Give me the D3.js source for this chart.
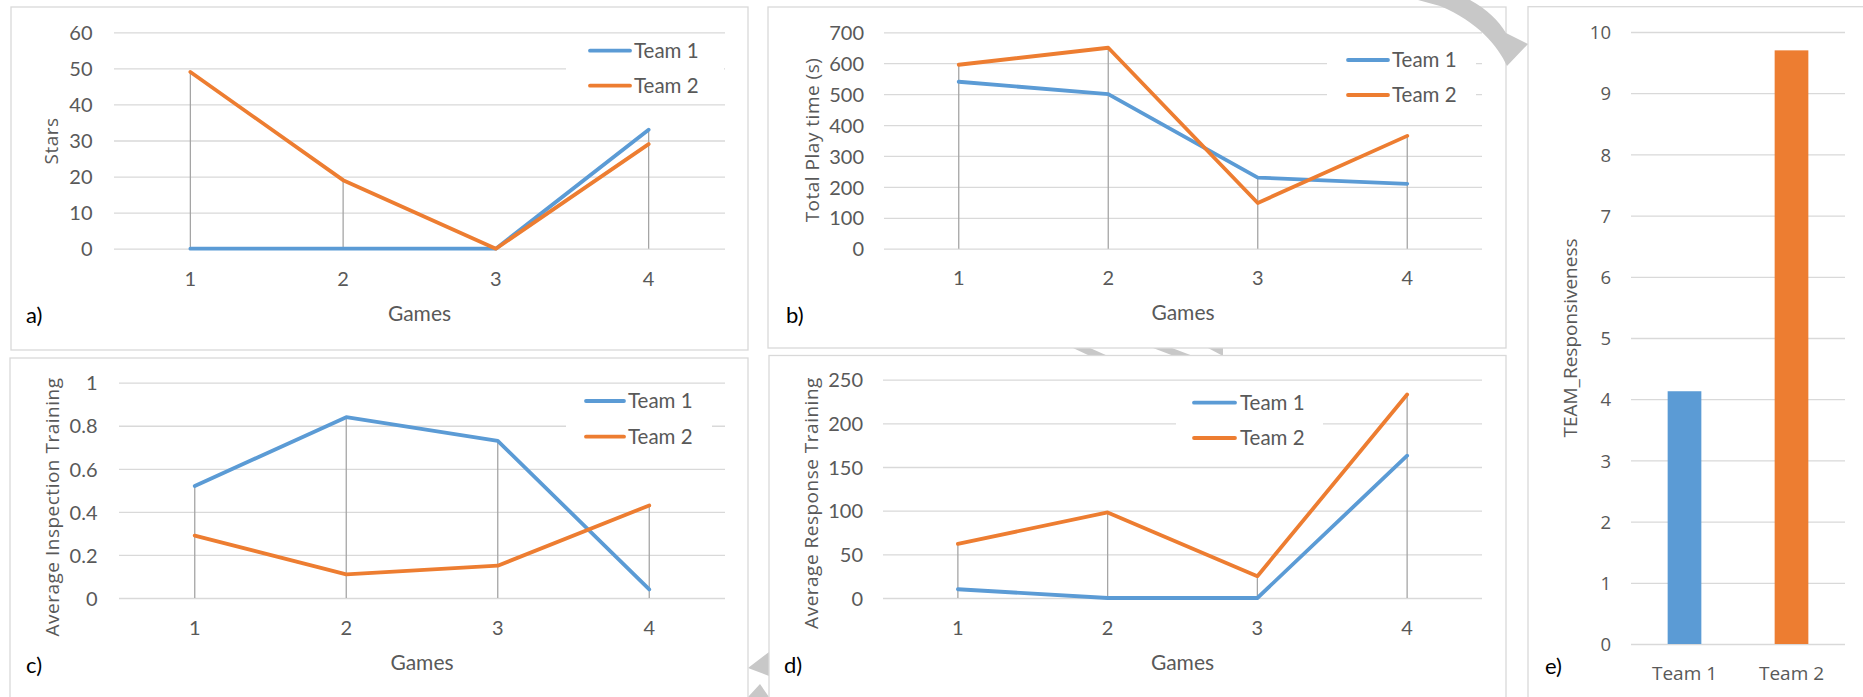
<!DOCTYPE html>
<html>
<head>
<meta charset="utf-8">
<script src="https://cdn.jsdelivr.net/npm/d3@7"></script>
<style>
  html, body { margin: 0; padding: 0; background: #fff; }
  svg { display: block; }
</style>
</head>
<body>
<svg id="fig" width="1863" height="697"></svg>
<script>
// ---- data ----
const games = ["1", "2", "3", "4"];
const teams = ["Team 1", "Team 2"];

const starsTeam1 = [0, 0, 0, 33];
const starsTeam2 = [49, 19, 0, 29];
const starsTicks = [0, 10, 20, 30, 40, 50, 60];

const playTimeTeam1 = [540, 500, 230, 210];
const playTimeTeam2 = [595, 650, 148, 365];
const playTimeTicks = [0, 100, 200, 300, 400, 500, 600, 700];

const inspectionTeam1 = [0.52, 0.84, 0.73, 0.04];
const inspectionTeam2 = [0.29, 0.11, 0.15, 0.43];
const inspectionTicks = [0, 0.2, 0.4, 0.6, 0.8, 1];

const responseTeam1 = [10, 0, 0, 163];
const responseTeam2 = [62, 98, 25, 233];
const responseTicks = [0, 50, 100, 150, 200, 250];

const responsiveness = [4.13, 9.7];
const responsivenessTicks = [0, 1, 2, 3, 4, 5, 6, 7, 8, 9, 10];

const teamColors = ["#5b9bd5", "#ed7d31"];

// ---- styles ----
const GRID = "#d9d9d9";
const TEXT = "#595959";
const DROP = "#a5a5a5";
const NARROW = "Lato, 'Liberation Sans', sans-serif";
const WIDE = "'Open Sans', 'Noto Sans', sans-serif";

const svg = d3.select("#fig");

// faint grey arrow pieces sitting behind the panels
const deco = svg.append("g").attr("fill", "#c8c8c8").attr("stroke", "none");
deco.append("path").attr("d", "M1073,348 L1090,348 L1108,356 L1090,356 Z M1153,348 L1172,348 L1193,356 L1174,356 Z M1208,348 L1223,348 L1223,356 Z");
deco.append("path").attr("d", "M769,652 L748,668 L769,676 Z M760,684 L748,697 L769,697 Z");

function panelFrame(x, y, w, h) {
  svg.append("rect")
    .attr("x", x).attr("y", y).attr("width", w).attr("height", h)
    .attr("fill", "#fff").attr("stroke", GRID).attr("stroke-width", 1.3);
}

function linePanel(o) {
  panelFrame(...o.box);
  const g = svg.append("g");
  const x = d3.scaleBand().domain(games).range([o.left, o.right]);
  const y = d3.scaleLinear().domain([0, d3.max(o.ticks)]).range([o.bottom, o.top]);
  const cx = d => x(d) + x.bandwidth() / 2;

  // value axis with gridlines
  const ya = g.append("g").attr("transform", `translate(${o.left},0)`)
    .call(d3.axisLeft(y).tickValues(o.ticks).tickFormat(d => String(d))
      .tickSize(-(o.right - o.left)).tickPadding(o.left - o.labelRight));
  ya.select(".domain").remove();
  ya.selectAll(".tick line").attr("stroke", GRID).attr("stroke-width", 1.3);
  ya.selectAll(".tick text").attr("fill", TEXT).attr("font-family", NARROW)
    .attr("font-size", 20).attr("dy", "0.36em");

  // category axis
  const xa = g.append("g").attr("transform", `translate(0,${o.bottom})`)
    .call(d3.axisBottom(x).tickSize(0));
  xa.select(".domain").remove();
  xa.selectAll(".tick text").attr("fill", TEXT).attr("font-family", NARROW)
    .attr("font-size", 20).attr("y", o.xLabelY - o.bottom).attr("dy", "0.36em");

  // drop lines from the higher series down to zero
  g.append("g").selectAll("line").data(games).join("line")
    .attr("x1", d => cx(d)).attr("x2", d => cx(d))
    .attr("y1", (d, i) => y(Math.max(o.series[0][i], o.series[1][i])))
    .attr("y2", y(0))
    .attr("stroke", DROP).attr("stroke-width", 1.3);

  // series
  const line = d3.line().x((d, i) => cx(games[i])).y(d => y(d));
  o.series.forEach((s, k) => {
    g.append("path").datum(s).attr("d", line).attr("fill", "none")
      .attr("stroke", teamColors[k]).attr("stroke-width", 3.8)
      .attr("stroke-linecap", "round").attr("stroke-linejoin", "round");
  });

  // legend
  const lg = g.append("g");
  lg.append("rect").attr("x", o.legend.box[0]).attr("y", o.legend.box[1])
    .attr("width", o.legend.box[2]).attr("height", o.legend.box[3]).attr("fill", "#fff");
  teams.forEach((t, k) => {
    const ly = o.legend.y[k];
    lg.append("line").attr("x1", o.legend.x0).attr("x2", o.legend.x1)
      .attr("y1", ly).attr("y2", ly).attr("stroke", teamColors[k])
      .attr("stroke-width", 3.8).attr("stroke-linecap", "round");
    lg.append("text").attr("x", o.legend.tx).attr("y", ly).attr("dy", "0.36em")
      .attr("fill", TEXT).attr("font-family", NARROW).attr("font-size", 20.5).text(t);
  });

  // axis titles
  g.append("text").attr("x", (o.left + o.right) / 2).attr("y", o.gamesY).attr("dy", "0.36em")
    .attr("text-anchor", "middle").attr("fill", TEXT).attr("font-family", NARROW)
    .attr("font-size", 21).text("Games");
  g.append("text").attr("transform", `translate(${o.yTitle[0]},${o.yTitle[1]}) rotate(-90)`)
    .attr("text-anchor", "middle").attr("dy", "0.36em").attr("fill", TEXT)
    .attr("font-family", WIDE).attr("font-size", 19).attr("letter-spacing", 0.5).text(o.yLabel);

  // panel letter
  g.append("text").attr("x", o.letter[0]).attr("y", o.letter[1]).attr("fill", "#000")
    .attr("font-family", NARROW).attr("font-size", 22).text(o.letter[2]);
}

linePanel({
  box: [11, 7, 737, 343], left: 114, right: 725, top: 32.3, bottom: 248.7, labelRight: 92.5,
  ticks: starsTicks, series: [starsTeam1, starsTeam2], xLabelY: 279, gamesY: 313,
  yLabel: "Stars", yTitle: [51, 141], letter: [26, 323, "a)"],
  legend: { box: [566, 38, 158, 62], x0: 590, x1: 630, tx: 634, y: [50.7, 85.7] }
});

linePanel({
  box: [768, 7, 738, 341], left: 884, right: 1482, top: 32.3, bottom: 248.7, labelRight: 864,
  ticks: playTimeTicks, series: [playTimeTeam1, playTimeTeam2], xLabelY: 278, gamesY: 312,
  yLabel: "Total Play time (s)", yTitle: [812, 140], letter: [786, 323, "b)"],
  legend: { box: [1327, 42, 149, 72], x0: 1348, x1: 1388, tx: 1392, y: [60, 95] }
});

linePanel({
  box: [10, 358, 738, 345], left: 119, right: 725, top: 382.7, bottom: 598, labelRight: 97.5,
  ticks: inspectionTicks, series: [inspectionTeam1, inspectionTeam2], xLabelY: 628, gamesY: 662,
  yLabel: "Average Inspection Training", yTitle: [52, 507], letter: [26, 673, "c)"],
  legend: { box: [566, 384, 146, 70], x0: 586, x1: 624, tx: 628, y: [401, 436.7] }
});

linePanel({
  box: [769, 355.5, 737, 347], left: 883, right: 1482, top: 379.7, bottom: 598, labelRight: 863,
  ticks: responseTicks, series: [responseTeam1, responseTeam2], xLabelY: 628, gamesY: 662,
  yLabel: "Average Response Training", yTitle: [811, 503], letter: [784, 673, "d)"],
  legend: { box: [1176, 386, 147, 68], x0: 1194, x1: 1235, tx: 1240, y: [402.7, 438] }
});

// ---- panel e: bar chart ----
(function () {
  panelFrame(1528, 6.7, 345, 700);
  const g = svg.append("g");
  const left = 1631, right = 1845, top = 32, bottom = 644;
  const x = d3.scaleBand().domain(teams).range([left, right]);
  const y = d3.scaleLinear().domain([0, 10]).range([bottom, top]);
  const barW = x.bandwidth() * 0.315;

  const ya = g.append("g").attr("transform", `translate(${left},0)`)
    .call(d3.axisLeft(y).tickValues(responsivenessTicks).tickSize(-(right - left)).tickPadding(20));
  ya.select(".domain").remove();
  ya.selectAll(".tick line").attr("stroke", GRID).attr("stroke-width", 1.3);
  ya.selectAll(".tick text").attr("fill", TEXT).attr("font-family", WIDE)
    .attr("font-size", 18.5).attr("dy", "0.36em");

  g.selectAll("rect.bar").data(responsiveness).join("rect").attr("class", "bar")
    .attr("x", (d, i) => x(teams[i]) + (x.bandwidth() - barW) / 2)
    .attr("width", barW)
    .attr("y", d => y(d)).attr("height", d => y(0) - y(d))
    .attr("fill", (d, i) => teamColors[i]);

  const xa = g.append("g").attr("transform", `translate(0,${bottom})`)
    .call(d3.axisBottom(x).tickSize(0));
  xa.select(".domain").remove();
  xa.selectAll(".tick text").attr("fill", TEXT).attr("font-family", WIDE)
    .attr("font-size", 19).attr("y", 673 - bottom).attr("dy", "0.36em");

  g.append("text").attr("transform", "translate(1570,338) rotate(-90)")
    .attr("text-anchor", "middle").attr("dy", "0.36em").attr("fill", TEXT)
    .attr("font-family", WIDE).attr("font-size", 19).text("TEAM_Responsiveness");

  g.append("text").attr("x", 1545).attr("y", 674).attr("fill", "#000")
    .attr("font-family", NARROW).attr("font-size", 22).text("e)");
})();

// grey arrow crossing the top-right corner of the play-time panel
svg.append("path").attr("fill", "#c8c8c8")
  .attr("d", "M1418,0 L1470,0 C1488,10 1498,20 1506,33 L1528,44 L1507,66 C1498,46 1478,22 1440,6 Z");
</script>
</body>
</html>
